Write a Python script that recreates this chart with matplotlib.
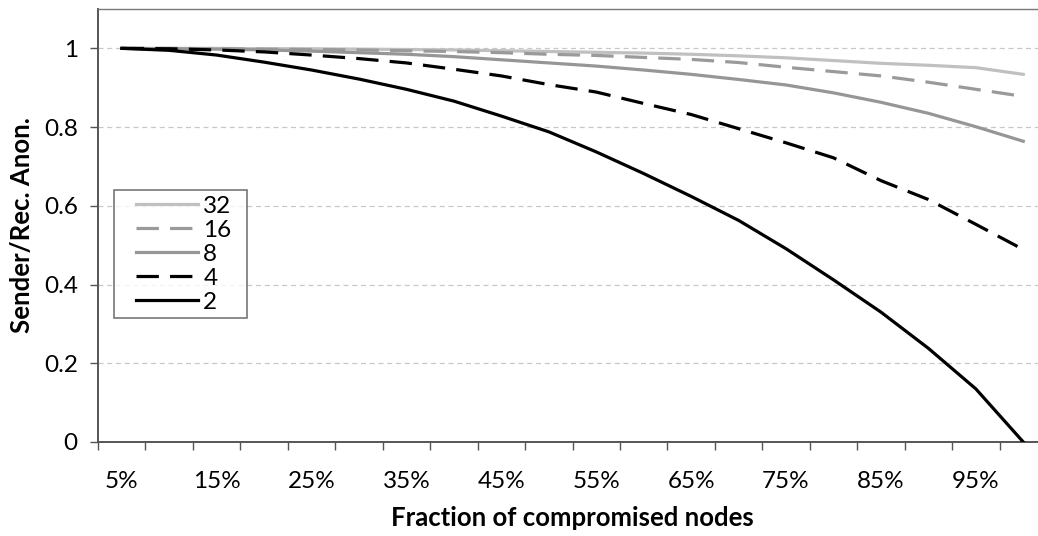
import numpy as np
import matplotlib.pyplot as plt
from matplotlib.lines import Line2D
from matplotlib.legend_handler import HandlerLine2D

# fraction of compromised nodes (categories on the x axis)
fractions = [f"{p}%" for p in range(5, 101, 5)]

# sender/receiver anonymity for each path length
anon_32 = [1.0, 1.0, 1.0, 0.999, 0.999, 0.998, 0.997, 0.996, 0.994, 0.992,
           0.990, 0.988, 0.985, 0.981, 0.976, 0.969, 0.962, 0.957, 0.951, 0.934]
anon_16 = [1.0, 1.0, 0.999, 0.998, 0.997, 0.996, 0.994, 0.992, 0.989, 0.985,
           0.982, 0.977, 0.972, 0.964, 0.952, 0.941, 0.930, 0.914, 0.896, 0.878]
anon_8 = [1.0, 0.999, 0.998, 0.996, 0.993, 0.989, 0.985, 0.979, 0.971, 0.963,
          0.955, 0.945, 0.934, 0.921, 0.907, 0.887, 0.863, 0.835, 0.801, 0.764]
anon_4 = [1.0, 0.999, 0.996, 0.991, 0.983, 0.974, 0.963, 0.947, 0.930, 0.908,
          0.889, 0.860, 0.832, 0.796, 0.760, 0.722, 0.664, 0.616, 0.553, 0.489]
anon_2 = [1.0, 0.995, 0.983, 0.965, 0.945, 0.922, 0.896, 0.866, 0.828, 0.788,
          0.737, 0.682, 0.624, 0.563, 0.491, 0.412, 0.330, 0.238, 0.135, 0.0]

series_labels = ['32', '16', '8', '4', '2']

plt.rcParams['font.family'] = ['Lato', 'DejaVu Sans']
axis_grey = '#555555'

fig = plt.figure(figsize=(10.38, 5.36), dpi=100)
# plot area runs a little past the right edge of the figure
ax = fig.add_axes([98 / 1038, 94 / 536, 949 / 1038, 433 / 536])

x = np.arange(len(fractions))
dash = (0, (7, 3.5))
styles = [
    (anon_32, '#c0c0c0', '-'),
    (anon_16, '#9a9a9a', dash),
    (anon_8, '#969696', '-'),
    (anon_4, 'black', dash),
    (anon_2, 'black', '-'),
]
for (vals, col, ls), lab in zip(styles, series_labels):
    ax.plot(x, vals, color=col, linestyle=ls, linewidth=2.3, label=lab, zorder=3)

ax.set_xlim(-0.5, len(fractions) - 0.5)
ax.set_ylim(0, 1.1)

# category boundaries carry the tick marks, every other category gets a label
ax.set_xticks(np.arange(-0.5, len(fractions), 1.0))
ax.set_xticklabels([])
ax.set_xticks(x[::2], minor=True)
ax.set_xticklabels(fractions[::2], minor=True)
ax.tick_params(axis='x', which='major', direction='out', length=5.8, width=1.0, color=axis_grey)
ax.tick_params(axis='x', which='minor', length=0, pad=21, labelsize=17.5)

ax.set_yticks([0, 0.2, 0.4, 0.6, 0.8, 1.0])
ax.set_yticklabels(['0', '0.2', '0.4', '0.6', '0.8', '1'])
ax.tick_params(axis='y', direction='out', length=5.5, width=1.0, color=axis_grey,
               pad=9, labelsize=17.5)

ax.grid(axis='y', color='#c8c8c8', linestyle=(0, (4, 3)), linewidth=0.9)
ax.set_axisbelow(True)

for side in ['left', 'bottom']:
    ax.spines[side].set_color(axis_grey)
    ax.spines[side].set_linewidth(1.4)
ax.spines['top'].set_color('#777777')
ax.spines['top'].set_linewidth(1.0)
ax.spines['right'].set_visible(False)

ax.set_xlabel('Fraction of compromised nodes', fontsize=18.5, fontweight='bold', labelpad=10)
ax.set_ylabel('Sender/Rec. Anon.', fontsize=18.5, fontweight='bold', labelpad=7)

# legend: handle lines start well inside the frame, frame stretched to a fixed width
leg_h = 0.3
leg_top = 0.581
leg = ax.legend(loc='upper left', bbox_to_anchor=(0.0169, leg_top - leg_h, 0.14, leg_h),
                mode='expand', borderaxespad=0,
                fontsize=17.5, handlelength=3.25, handletextpad=0.2, labelspacing=0.12,
                borderpad=0.22, fancybox=False, frameon=True,
                handler_map={Line2D: HandlerLine2D(xpad=0.68)})
leg.get_frame().set_edgecolor(axis_grey)
leg.get_frame().set_linewidth(1.2)

plt.savefig('out.png', dpi=100)
